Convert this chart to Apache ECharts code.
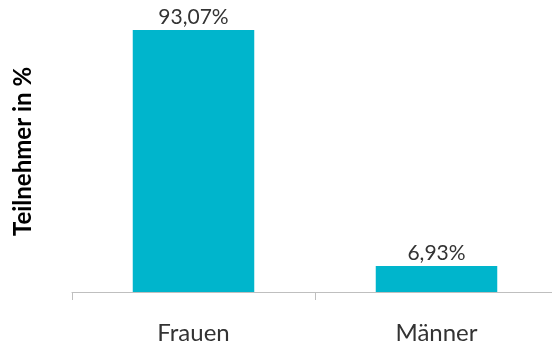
<!DOCTYPE html>
<html><head><meta charset="utf-8">
<script src="https://cdn.jsdelivr.net/npm/echarts@6/dist/echarts.min.js"></script>
<style>html,body{margin:0;padding:0;background:#fff}#c{width:552px;height:347px}</style>
</head><body><div id="c"></div>
<script>
const categories = ['Frauen', 'Männer'];
const values = [93.07, 6.93];
const yAxisName = 'Teilnehmer in %';
const yMin = -2.6, yMax = 100;

const chart = echarts.init(document.getElementById('c'));
const fmt = v => v.toFixed(2).replace('.', ',') + '%';
chart.setOption({
  animation: false,
  grid: { left: 72, right: -6, top: 11, bottom: 55, outerBoundsMode: 'none', containLabel: false },
  xAxis: {
    type: 'category', data: categories,
    axisLine: { onZero: false, lineStyle: { color: '#bfbfbf', width: 1 } },
    axisTick: { show: true, length: 8, lineStyle: { color: '#bfbfbf' } },
    axisLabel: { margin: 29, fontFamily: 'Lato', fontSize: 24, color: '#333' }
  },
  yAxis: {
    type: 'value', min: yMin, max: yMax,
    name: yAxisName, nameLocation: 'middle', nameGap: 37,
    nameTextStyle: { fontFamily: 'Lato', fontWeight: 'bold', fontSize: 24, color: '#000' },
    axisLine: { show: false }, axisTick: { show: false }, axisLabel: { show: false },
    splitLine: { show: false }
  },
  series: [{
    type: 'custom',
    data: values.map((v, i) => [i, v]),
    renderItem: function (params, api) {
      const idx = api.value(0), v = api.value(1);
      const top = api.coord([idx, v]);
      const base = api.coord([idx, yMin]);
      const w = api.size([1, 0])[0] * 0.5;
      return {
        type: 'group',
        children: [
          { type: 'rect', shape: { x: top[0] - w / 2, y: top[1], width: w, height: base[1] - top[1] },
            style: { fill: '#00b5cc' } },
          { type: 'text', x: top[0], y: top[1] - 2,
            style: { text: fmt(v), fill: '#333', font: '21px Lato', align: 'center', verticalAlign: 'bottom' } }
        ]
      };
    }
  }]
});
</script></body></html>
